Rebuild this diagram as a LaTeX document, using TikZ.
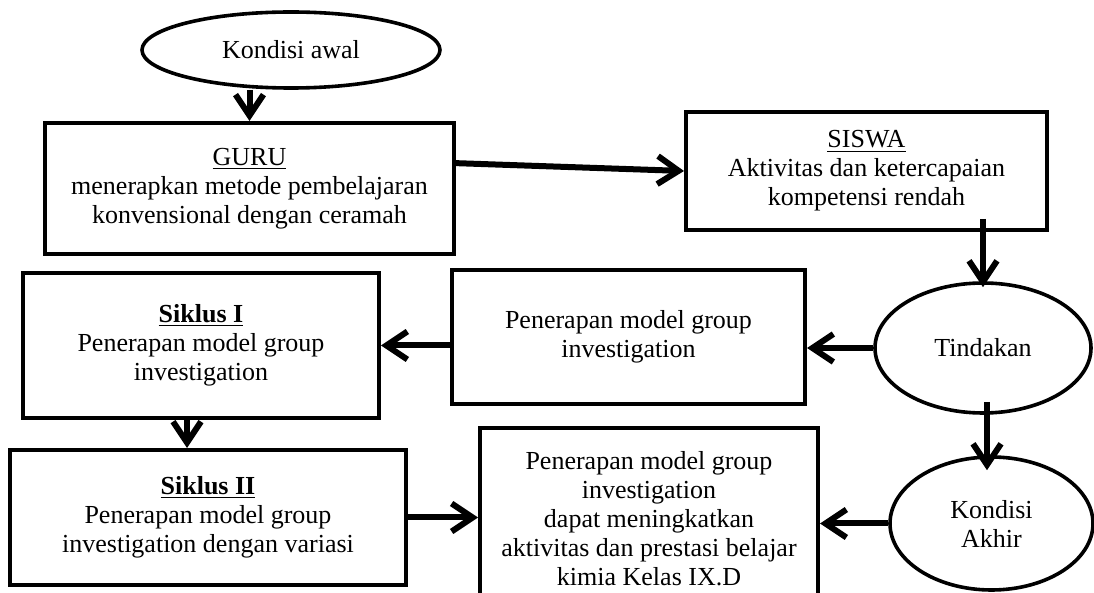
\documentclass[tikz,border=0pt]{standalone}
\usepackage{fontspec}
\setmainfont{Liberation Serif}
\usetikzlibrary{shapes.geometric,arrows.meta}

\begin{document}
\begin{tikzpicture}[x=0.5pt,y=-0.5pt,
        font=\fontsize{13}{14.5}\selectfont,
        kotak/.style={draw, line width=2pt, rectangle, align=center, inner sep=0pt},
        lonjong/.style={draw, line width=1.8pt, ellipse, align=center, inner sep=0pt},
        panah/.style={line width=3pt, -{Straight Barb[length=10.5pt,width=14pt]}}]
        \useasboundingbox (0,0) rectangle (1094,593);
        \clip (0,0) rectangle (1094,593);
        % kondisi awal dan akhir
        \node[lonjong, minimum width=149pt, minimum height=38pt] (awal) at (291,50) {Kondisi awal};
        \node[lonjong, minimum width=108pt, minimum height=65pt] (tindakan) at (983,348) {Tindakan};
        \node[lonjong, minimum width=101.5pt, minimum height=66.5pt] (akhir) at (991.5,523.5) {Kondisi\\Akhir};
        % kotak
        \node[kotak, minimum width=204.5pt, minimum height=65.5pt] (guru) at (249.5,188.5)
            {\underline{GURU}\\menerapkan metode pembelajaran\\konvensional dengan ceramah};
        \node[kotak, minimum width=180.5pt, minimum height=59pt] (siswa) at (866.5,171)
            {\underline{SISWA}\\Aktivitas dan ketercapaian\\kompetensi rendah};
        \node[kotak, minimum width=176.5pt, minimum height=67pt] (penerapan) at (628.5,337)
            {Penerapan model group\\investigation};
        \node[kotak, minimum width=178pt, minimum height=72.5pt] (siklusA) at (201,345.5)
            {\underline{\textbf{Siklus I}}\\Penerapan model group\\investigation};
        \node[kotak, minimum width=198pt, minimum height=67.5pt] (siklusB) at (208,517.5)
            {\underline{\textbf{Siklus II}}\\Penerapan model group\\investigation dengan variasi};
        \node[kotak, minimum width=169pt, minimum height=91pt] (hasil) at (649,519)
            {Penerapan model group\\investigation\\dapat meningkatkan\\aktivitas dan prestasi belajar\\kimia Kelas IX.D};
        % panah
        \draw[panah] (awal.south -| guru.north) -- (guru.north);
        \draw[panah] (guru.7) -- (siswa.west);
        \draw[panah] ([yshift=6.5pt]siswa.south -| tindakan.north) -- ([yshift=-3pt]tindakan.north);
        \draw[panah] (tindakan.west) -- (tindakan.west -| penerapan.east);
        \draw[panah] (penerapan.west |- siklusA.east) -- (siklusA.east);
        \draw[panah] ([xshift=-7pt]siklusA.south) -- ([xshift=-7pt]siklusA.south |- siklusB.north);
        \draw[panah] (siklusB.east) -- (siklusB.east -| hasil.west);
        \draw[panah] ([xshift=2pt,yshift=6.5pt]tindakan.south) -- ([xshift=2pt,yshift=-7.5pt]tindakan.south |- akhir.north);
        \draw[panah] (akhir.west) -- (akhir.west -| hasil.east);
    \end{tikzpicture}
\end{document}
